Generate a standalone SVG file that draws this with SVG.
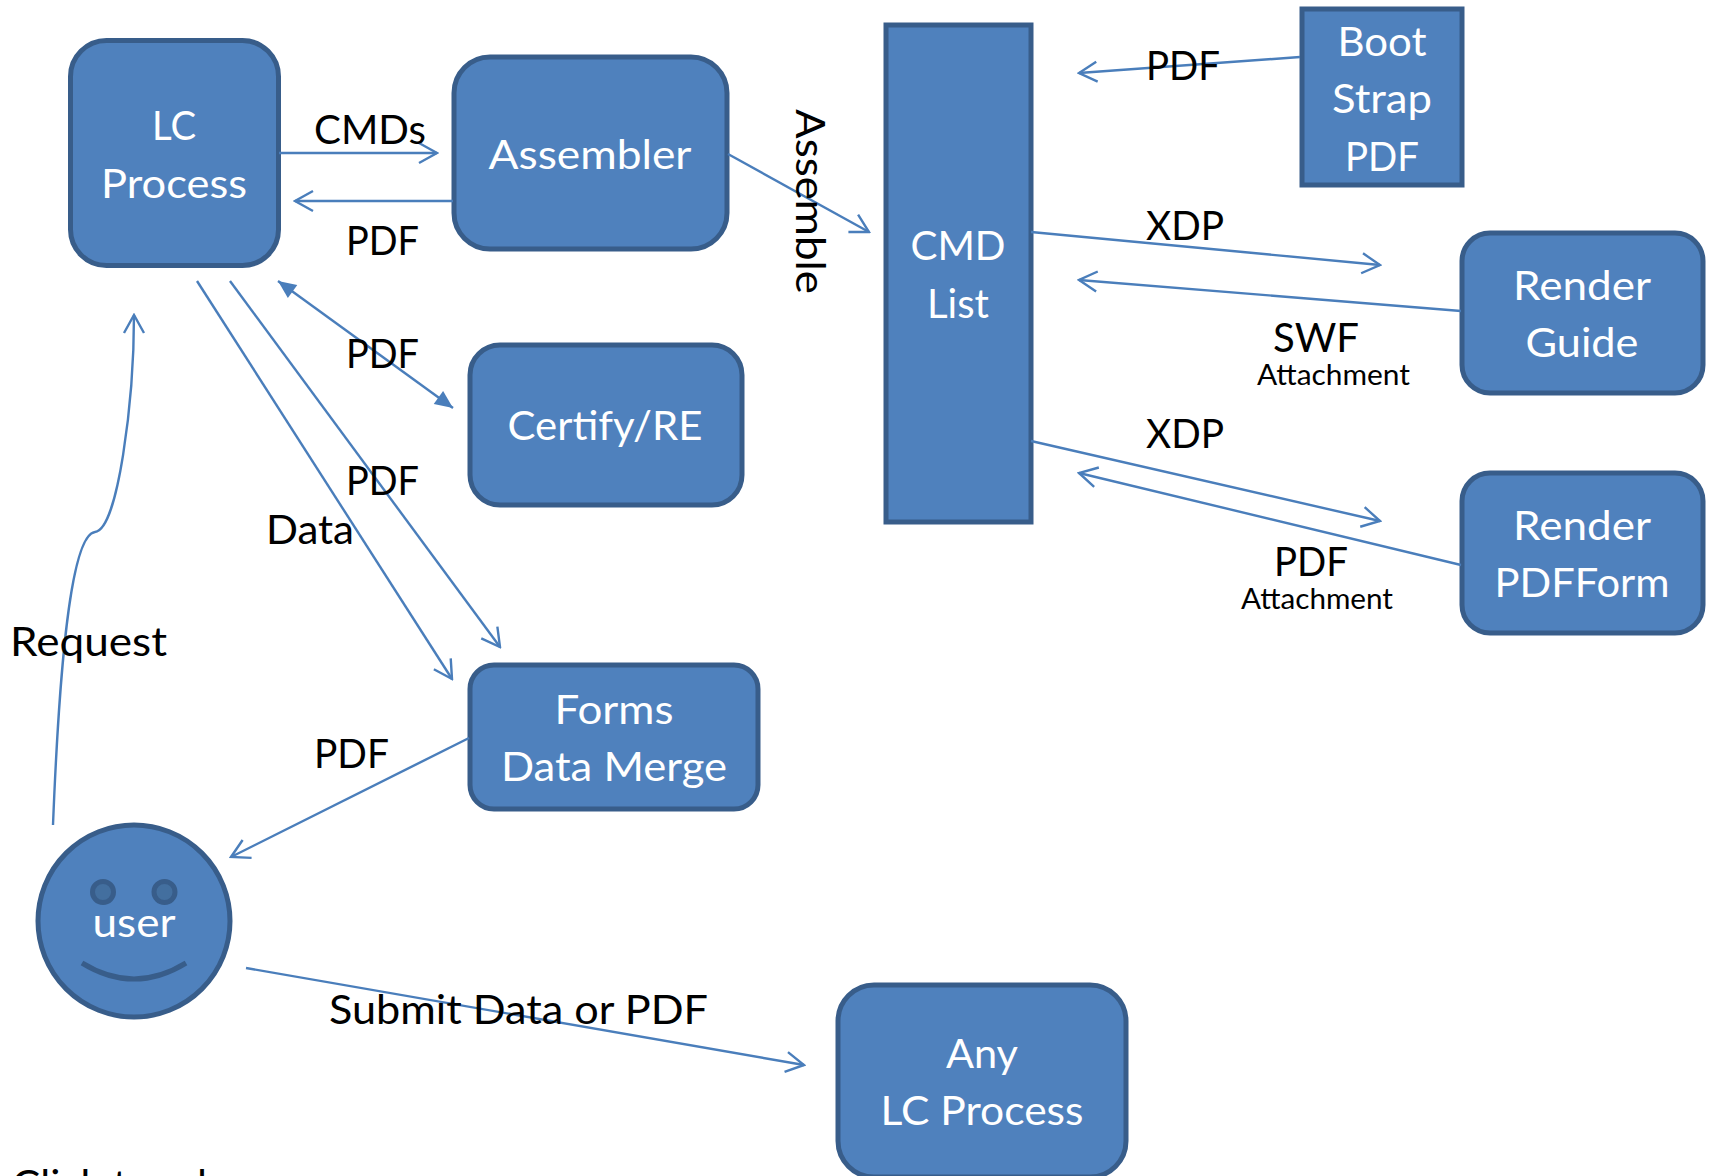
<svg xmlns="http://www.w3.org/2000/svg" width="1709" height="1176" viewBox="0 0 1709 1176">
<style>
.n{fill:#4f81bd;stroke:#385d8a;stroke-width:5}
.f{fill:#436f9f;stroke:#385d8a;stroke-width:5}
.c{fill:none;stroke:#4a7ebb;stroke-width:2.4;marker-end:url(#o)}
text{font-family:"Lato","Liberation Sans",sans-serif}
.w{fill:#fff;font-size:41px;text-anchor:middle}
.k{fill:#000;font-size:41px}
.s{fill:#000;font-size:29px}
</style>
<defs>
<marker id="o" viewBox="-20 -12 22 24" refX="0" refY="0" markerWidth="22" markerHeight="24" markerUnits="userSpaceOnUse" orient="auto"><path d="M-18-10 0 0-18 10" fill="none" stroke="#4a7ebb" stroke-width="2.4"/></marker>
<marker id="t" viewBox="-20 -12 22 24" refX="0" refY="0" markerWidth="22" markerHeight="24" markerUnits="userSpaceOnUse" orient="auto"><path d="M-18-8 0 0-18 8z" fill="#4a7ebb"/></marker>
<marker id="ts" viewBox="-2 -12 22 24" refX="0" refY="0" markerWidth="22" markerHeight="24" markerUnits="userSpaceOnUse" orient="auto"><path d="M18-8 0 0 18 8z" fill="#4a7ebb"/></marker>
</defs>
<g id="lc-process"><rect class="n" x="70.500" y="40.500" width="208" height="225" rx="36"/><text class="w" x="174" y="140" textLength="44" lengthAdjust="spacingAndGlyphs">LC</text><text class="w" x="174" y="198" textLength="146" lengthAdjust="spacingAndGlyphs">Process</text></g>
<g id="assembler"><rect class="n" x="454" y="57" width="273" height="192" rx="36"/><text class="w" x="590" y="169" textLength="203" lengthAdjust="spacingAndGlyphs">Assembler</text></g>
<g id="certify"><rect class="n" x="470" y="345" width="272" height="160" rx="30"/><text class="w" x="605" y="440" textLength="195" lengthAdjust="spacingAndGlyphs">Certify/RE</text></g>
<g id="forms"><rect class="n" x="470" y="665" width="288" height="144" rx="24"/><text class="w" x="614" y="724" textLength="119" lengthAdjust="spacingAndGlyphs">Forms</text><text class="w" x="614" y="781" textLength="226" lengthAdjust="spacingAndGlyphs">Data Merge</text></g>
<g id="cmd-list"><rect class="n" x="886" y="25" width="145" height="497"/><text class="w" x="958" y="260" textLength="95" lengthAdjust="spacingAndGlyphs">CMD</text><text class="w" x="958" y="318" textLength="62" lengthAdjust="spacingAndGlyphs">List</text></g>
<g id="boot-strap"><rect class="n" x="1302" y="9" width="160" height="176"/><text class="w" x="1382" y="56" textLength="89" lengthAdjust="spacingAndGlyphs">Boot</text><text class="w" x="1382" y="113" textLength="100" lengthAdjust="spacingAndGlyphs">Strap</text><text class="w" x="1382" y="171" textLength="74" lengthAdjust="spacingAndGlyphs">PDF</text></g>
<g id="render-guide"><rect class="n" x="1462" y="233" width="241" height="160" rx="28"/><text class="w" x="1582" y="300" textLength="138" lengthAdjust="spacingAndGlyphs">Render</text><text class="w" x="1582" y="357" textLength="113" lengthAdjust="spacingAndGlyphs">Guide</text></g>
<g id="render-pdfform"><rect class="n" x="1462" y="473" width="241" height="160" rx="28"/><text class="w" x="1582" y="540" textLength="138" lengthAdjust="spacingAndGlyphs">Render</text><text class="w" x="1582" y="597" textLength="175" lengthAdjust="spacingAndGlyphs">PDFForm</text></g>
<g id="any-lc"><rect class="n" x="838" y="985" width="288" height="192" rx="36"/><text class="w" x="982" y="1068" textLength="72" lengthAdjust="spacingAndGlyphs">Any</text><text class="w" x="982" y="1125" textLength="203" lengthAdjust="spacingAndGlyphs">LC Process</text></g>
<g id="user"><circle class="n" cx="134" cy="921" r="96"/><circle class="f" cx="103" cy="892" r="10.500"/><circle class="f" cx="164.500" cy="892" r="10.500"/><path d="M82 963Q134 995 186 963" fill="none" stroke="#385d8a" stroke-width="5"/><text class="w" x="134" y="937" textLength="83" lengthAdjust="spacingAndGlyphs">user</text></g>
<g id="connectors">
<path class="c" d="M279 153H437"/>
<path class="c" d="M453 201H295"/>
<path class="c" d="M728 154 869 232"/>
<path class="c" d="M453 408 278 281" style="marker-start:url(#ts);marker-end:url(#t)"/>
<path class="c" d="M197 281 452 679"/>
<path class="c" d="M230 281 500 647"/>
<path class="c" d="M53 825C58 700 68 535 95 532C118 530 134 400 134 315"/>
<path class="c" d="M469 738 231 857"/>
<path class="c" d="M246 968 804 1065"/>
<path class="c" d="M1300 57 1079 73"/>
<path class="c" d="M1031 232 1380 265"/>
<path class="c" d="M1461 311 1079 280"/>
<path class="c" d="M1031 441 1380 521"/>
<path class="c" d="M1461 565 1079 473"/>
</g>
<g id="labels">
<text class="k" x="314" y="144" textLength="112" lengthAdjust="spacingAndGlyphs">CMDs</text>
<text class="k" x="346" y="255" textLength="73" lengthAdjust="spacingAndGlyphs">PDF</text>
<text class="k" x="346" y="368" textLength="73" lengthAdjust="spacingAndGlyphs">PDF</text>
<text class="k" x="346" y="495" textLength="73" lengthAdjust="spacingAndGlyphs">PDF</text>
<text class="k" x="266" y="544" textLength="88" lengthAdjust="spacingAndGlyphs">Data</text>
<text class="k" x="10" y="656" textLength="157" lengthAdjust="spacingAndGlyphs">Request</text>
<text class="k" x="314" y="768" textLength="75" lengthAdjust="spacingAndGlyphs">PDF</text>
<text class="k" x="329" y="1024" textLength="379" lengthAdjust="spacingAndGlyphs">Submit Data or PDF</text>
<text class="k" x="1146" y="80" textLength="74" lengthAdjust="spacingAndGlyphs">PDF</text>
<text class="k" x="1146" y="240" textLength="78" lengthAdjust="spacingAndGlyphs">XDP</text>
<text class="k" x="1273" y="352" textLength="86" lengthAdjust="spacingAndGlyphs">SWF</text>
<text class="s" x="1257" y="385" textLength="153" lengthAdjust="spacingAndGlyphs">Attachment</text>
<text class="k" x="1146" y="448" textLength="78" lengthAdjust="spacingAndGlyphs">XDP</text>
<text class="k" x="1274" y="576" textLength="74" lengthAdjust="spacingAndGlyphs">PDF</text>
<text class="s" x="1241" y="609" textLength="152" lengthAdjust="spacingAndGlyphs">Attachment</text>
<text class="k" transform="translate(796 109) rotate(90)" textLength="185" lengthAdjust="spacingAndGlyphs">Assemble</text>
<text class="k" x="12" y="1199" textLength="195" lengthAdjust="spacingAndGlyphs">Click to ad</text>
</g>
</svg>
